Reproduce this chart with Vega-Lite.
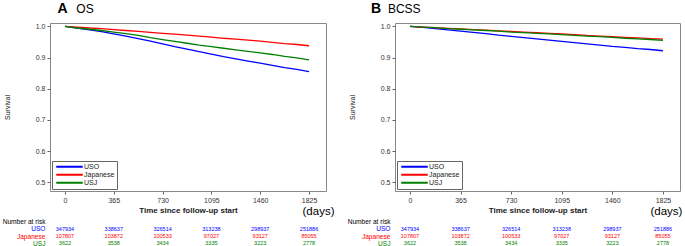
{
  "$schema": "https://vega.github.io/schema/vega-lite/v6.json",
  "padding": {"left": 2, "top": 1, "right": 2, "bottom": 0},
  "background": "white",
  "config": {"font": "Liberation Sans", "view": {"stroke": null}},
  "datasets": {
    "km": [
      {"panel":"OS","group":"USO","day":0,"surv":1.000},{"panel":"OS","group":"USO","day":91,"surv":0.995},{"panel":"OS","group":"USO","day":183,"surv":0.989},{"panel":"OS","group":"USO","day":274,"surv":0.983},{"panel":"OS","group":"USO","day":365,"surv":0.976},{"panel":"OS","group":"USO","day":456,"surv":0.969},{"panel":"OS","group":"USO","day":548,"surv":0.961},{"panel":"OS","group":"USO","day":639,"surv":0.953},{"panel":"OS","group":"USO","day":730,"surv":0.944},{"panel":"OS","group":"USO","day":821,"surv":0.935},{"panel":"OS","group":"USO","day":913,"surv":0.927},{"panel":"OS","group":"USO","day":1004,"surv":0.919},{"panel":"OS","group":"USO","day":1095,"surv":0.911},{"panel":"OS","group":"USO","day":1186,"surv":0.903},{"panel":"OS","group":"USO","day":1278,"surv":0.896},{"panel":"OS","group":"USO","day":1369,"surv":0.889},{"panel":"OS","group":"USO","day":1460,"surv":0.882},{"panel":"OS","group":"USO","day":1551,"surv":0.875},{"panel":"OS","group":"USO","day":1643,"surv":0.868},{"panel":"OS","group":"USO","day":1734,"surv":0.862},{"panel":"OS","group":"USO","day":1825,"surv":0.855},
      {"panel":"OS","group":"Japanese","day":0,"surv":1.000},{"panel":"OS","group":"Japanese","day":91,"surv":0.998},{"panel":"OS","group":"Japanese","day":183,"surv":0.995},{"panel":"OS","group":"Japanese","day":274,"surv":0.993},{"panel":"OS","group":"Japanese","day":365,"surv":0.990},{"panel":"OS","group":"Japanese","day":456,"surv":0.987},{"panel":"OS","group":"Japanese","day":548,"surv":0.984},{"panel":"OS","group":"Japanese","day":639,"surv":0.981},{"panel":"OS","group":"Japanese","day":730,"surv":0.978},{"panel":"OS","group":"Japanese","day":821,"surv":0.975},{"panel":"OS","group":"Japanese","day":913,"surv":0.972},{"panel":"OS","group":"Japanese","day":1004,"surv":0.969},{"panel":"OS","group":"Japanese","day":1095,"surv":0.966},{"panel":"OS","group":"Japanese","day":1186,"surv":0.962},{"panel":"OS","group":"Japanese","day":1278,"surv":0.959},{"panel":"OS","group":"Japanese","day":1369,"surv":0.956},{"panel":"OS","group":"Japanese","day":1460,"surv":0.953},{"panel":"OS","group":"Japanese","day":1551,"surv":0.949},{"panel":"OS","group":"Japanese","day":1643,"surv":0.945},{"panel":"OS","group":"Japanese","day":1734,"surv":0.942},{"panel":"OS","group":"Japanese","day":1825,"surv":0.938},
      {"panel":"OS","group":"USJ","day":0,"surv":1.000},{"panel":"OS","group":"USJ","day":91,"surv":0.995},{"panel":"OS","group":"USJ","day":183,"surv":0.991},{"panel":"OS","group":"USJ","day":274,"surv":0.987},{"panel":"OS","group":"USJ","day":365,"surv":0.982},{"panel":"OS","group":"USJ","day":456,"surv":0.977},{"panel":"OS","group":"USJ","day":548,"surv":0.971},{"panel":"OS","group":"USJ","day":639,"surv":0.964},{"panel":"OS","group":"USJ","day":730,"surv":0.958},{"panel":"OS","group":"USJ","day":821,"surv":0.952},{"panel":"OS","group":"USJ","day":913,"surv":0.946},{"panel":"OS","group":"USJ","day":1004,"surv":0.940},{"panel":"OS","group":"USJ","day":1095,"surv":0.935},{"panel":"OS","group":"USJ","day":1186,"surv":0.930},{"panel":"OS","group":"USJ","day":1278,"surv":0.925},{"panel":"OS","group":"USJ","day":1369,"surv":0.920},{"panel":"OS","group":"USJ","day":1460,"surv":0.915},{"panel":"OS","group":"USJ","day":1551,"surv":0.910},{"panel":"OS","group":"USJ","day":1643,"surv":0.904},{"panel":"OS","group":"USJ","day":1734,"surv":0.899},{"panel":"OS","group":"USJ","day":1825,"surv":0.893},
      {"panel":"BCSS","group":"USO","day":0,"surv":1.000},{"panel":"BCSS","group":"USO","day":91,"surv":0.997},{"panel":"BCSS","group":"USO","day":183,"surv":0.993},{"panel":"BCSS","group":"USO","day":274,"surv":0.989},{"panel":"BCSS","group":"USO","day":365,"surv":0.985},{"panel":"BCSS","group":"USO","day":456,"surv":0.981},{"panel":"BCSS","group":"USO","day":548,"surv":0.977},{"panel":"BCSS","group":"USO","day":639,"surv":0.972},{"panel":"BCSS","group":"USO","day":730,"surv":0.968},{"panel":"BCSS","group":"USO","day":821,"surv":0.964},{"panel":"BCSS","group":"USO","day":913,"surv":0.960},{"panel":"BCSS","group":"USO","day":1004,"surv":0.956},{"panel":"BCSS","group":"USO","day":1095,"surv":0.952},{"panel":"BCSS","group":"USO","day":1186,"surv":0.948},{"panel":"BCSS","group":"USO","day":1278,"surv":0.944},{"panel":"BCSS","group":"USO","day":1369,"surv":0.940},{"panel":"BCSS","group":"USO","day":1460,"surv":0.936},{"panel":"BCSS","group":"USO","day":1551,"surv":0.933},{"panel":"BCSS","group":"USO","day":1643,"surv":0.929},{"panel":"BCSS","group":"USO","day":1734,"surv":0.926},{"panel":"BCSS","group":"USO","day":1825,"surv":0.922},
      {"panel":"BCSS","group":"Japanese","day":0,"surv":1.000},{"panel":"BCSS","group":"Japanese","day":91,"surv":0.998},{"panel":"BCSS","group":"Japanese","day":183,"surv":0.996},{"panel":"BCSS","group":"Japanese","day":274,"surv":0.994},{"panel":"BCSS","group":"Japanese","day":365,"surv":0.992},{"panel":"BCSS","group":"Japanese","day":456,"surv":0.990},{"panel":"BCSS","group":"Japanese","day":548,"surv":0.988},{"panel":"BCSS","group":"Japanese","day":639,"surv":0.986},{"panel":"BCSS","group":"Japanese","day":730,"surv":0.984},{"panel":"BCSS","group":"Japanese","day":821,"surv":0.982},{"panel":"BCSS","group":"Japanese","day":913,"surv":0.980},{"panel":"BCSS","group":"Japanese","day":1004,"surv":0.978},{"panel":"BCSS","group":"Japanese","day":1095,"surv":0.976},{"panel":"BCSS","group":"Japanese","day":1186,"surv":0.974},{"panel":"BCSS","group":"Japanese","day":1278,"surv":0.971},{"panel":"BCSS","group":"Japanese","day":1369,"surv":0.969},{"panel":"BCSS","group":"Japanese","day":1460,"surv":0.967},{"panel":"BCSS","group":"Japanese","day":1551,"surv":0.965},{"panel":"BCSS","group":"Japanese","day":1643,"surv":0.963},{"panel":"BCSS","group":"Japanese","day":1734,"surv":0.961},{"panel":"BCSS","group":"Japanese","day":1825,"surv":0.959},
      {"panel":"BCSS","group":"USJ","day":0,"surv":1.000},{"panel":"BCSS","group":"USJ","day":91,"surv":0.998},{"panel":"BCSS","group":"USJ","day":183,"surv":0.996},{"panel":"BCSS","group":"USJ","day":274,"surv":0.993},{"panel":"BCSS","group":"USJ","day":365,"surv":0.991},{"panel":"BCSS","group":"USJ","day":456,"surv":0.989},{"panel":"BCSS","group":"USJ","day":548,"surv":0.987},{"panel":"BCSS","group":"USJ","day":639,"surv":0.985},{"panel":"BCSS","group":"USJ","day":730,"surv":0.982},{"panel":"BCSS","group":"USJ","day":821,"surv":0.980},{"panel":"BCSS","group":"USJ","day":913,"surv":0.978},{"panel":"BCSS","group":"USJ","day":1004,"surv":0.976},{"panel":"BCSS","group":"USJ","day":1095,"surv":0.974},{"panel":"BCSS","group":"USJ","day":1186,"surv":0.971},{"panel":"BCSS","group":"USJ","day":1278,"surv":0.969},{"panel":"BCSS","group":"USJ","day":1369,"surv":0.967},{"panel":"BCSS","group":"USJ","day":1460,"surv":0.965},{"panel":"BCSS","group":"USJ","day":1551,"surv":0.962},{"panel":"BCSS","group":"USJ","day":1643,"surv":0.960},{"panel":"BCSS","group":"USJ","day":1734,"surv":0.958},{"panel":"BCSS","group":"USJ","day":1825,"surv":0.955}
    ],
    "risk": [
      {"group":"USO","day":0,"n":347934},{"group":"USO","day":365,"n":338637},{"group":"USO","day":730,"n":326514},{"group":"USO","day":1095,"n":313238},{"group":"USO","day":1460,"n":298937},{"group":"USO","day":1825,"n":251886},
      {"group":"Japanese","day":0,"n":107807},{"group":"Japanese","day":365,"n":103872},{"group":"Japanese","day":730,"n":100533},{"group":"Japanese","day":1095,"n":97027},{"group":"Japanese","day":1460,"n":93127},{"group":"Japanese","day":1825,"n":85055},
      {"group":"USJ","day":0,"n":3622},{"group":"USJ","day":365,"n":3538},{"group":"USJ","day":730,"n":3434},{"group":"USJ","day":1095,"n":3335},{"group":"USJ","day":1460,"n":3223},{"group":"USJ","day":1825,"n":2778}
    ],
    "unit": [{"label": "(days)"}],
    "heads": [{"panel": "OS", "letter": "A", "name": "OS"}, {"panel": "BCSS", "letter": "B", "name": "BCSS"}]
  },
  "hconcat": [
    {
      "spacing": -4,
      "resolve": {"scale": {"x": "independent", "color": "independent"}, "legend": {"color": "independent"}},
      "vconcat": [
        {
          "width": 276, "height": 168,
          "view": {"stroke": "#888888", "strokeWidth": 1},
          "layer": [
            {
              "data": {"name": "km"},
              "transform": [{"filter": "datum.panel === 'OS'"}],
              "mark": {"type": "line", "strokeWidth": 1.3, "clip": true},
              "encoding": {
                "x": {"field": "day", "type": "quantitative", "scale": {"domain": [-112, 1952], "nice": false, "zero": false},
                  "axis": {"values": [0, 365, 730, 1095, 1460, 1825], "tickCount": 20, "format": "d", "title": "Time since follow-up start", "titleFontSize": 8, "titleFontWeight": "bold", "titleColor": "#222222", "labelFontSize": 7, "labelColor": "#333333", "tickSize": 3, "tickColor": "#666666", "domain": false, "grid": false, "labelPadding": 2, "titlePadding": 3, "labelFlush": false, "labelOverlap": false}},
                "y": {"field": "surv", "type": "quantitative", "scale": {"domain": [0.472, 1.011], "nice": false, "zero": false},
                  "axis": {"values": [0.5, 0.6, 0.7, 0.8, 0.9, 1.0], "tickCount": 20, "format": ".1f", "title": "Survival", "titleFontSize": 7, "titleFontWeight": "normal", "titleColor": "#222222", "titlePadding": 25, "labelFontSize": 7, "labelColor": "#333333", "tickSize": 3, "tickColor": "#666666", "domain": false, "grid": false, "labelPadding": 2, "labelOverlap": false, "labelBound": false}},
                "color": {"field": "group", "type": "nominal", "scale": {"domain": ["USO", "Japanese", "USJ"], "range": ["#0000ff", "#ff0000", "#008000"]},
                  "legend": {"orient": "bottom-left", "title": null, "offset": 2, "strokeColor": "#666666", "fillColor": "white", "padding": 2, "labelFontSize": 7, "labelColor": "#222222", "symbolType": "M-5.3,0H5.3", "symbolSize": 25, "symbolStrokeWidth": 2, "symbolOffset": 12, "labelOffset": 11, "rowPadding": -2, "clipHeight": 7.5}}
              }
            },
            {
              "data": {"name": "unit"},
              "mark": {"type": "text", "fontSize": 11.5, "baseline": "middle", "align": "center", "color": "#000000"},
              "encoding": {"x": {"datum": 1896}, "y": {"datum": 0.406}, "text": {"field": "label"}}
            },
            {
              "data": {"name": "heads"},
              "transform": [{"filter": "datum.panel === 'OS'"}],
              "mark": {"type": "text", "fontSize": 14, "fontWeight": "bold", "baseline": "alphabetic", "align": "left", "color": "#000000"},
              "encoding": {"x": {"datum": -55}, "y": {"datum": 1.0426}, "text": {"field": "letter"}}
            },
            {
              "data": {"name": "heads"},
              "transform": [{"filter": "datum.panel === 'OS'"}],
              "mark": {"type": "text", "fontSize": 12, "baseline": "alphabetic", "align": "left", "color": "#000000"},
              "encoding": {"x": {"datum": 85}, "y": {"datum": 1.0426}, "text": {"field": "name"}}
            }
          ]
        },
        {
          "width": 276, "height": 29,
          "data": {"name": "risk"},
          "mark": {"type": "text", "fontSize": 5.5, "baseline": "middle"},
          "encoding": {
            "x": {"field": "day", "type": "quantitative", "scale": {"domain": [-112, 1952], "nice": false, "zero": false}, "axis": null},
            "y": {"field": "group", "type": "ordinal", "scale": {"domain": ["Number at risk", "USO", "Japanese", "USJ"]},
              "axis": {"title": null, "ticks": false, "domain": false, "labelPadding": 5, "labelFontSize": 6.6, "labelOverlap": false,
                "labelColor": {"condition": [{"test": "datum.value === 'USO'", "value": "#0000ff"}, {"test": "datum.value === 'Japanese'", "value": "#ff0000"}, {"test": "datum.value === 'USJ'", "value": "#008000"}], "value": "#000000"}}},
            "text": {"field": "n"},
            "color": {"condition": [{"test": "datum.group === 'USO'", "value": "#0000ff"}, {"test": "datum.group === 'Japanese'", "value": "#ff0000"}], "value": "#008000"}
          }
        }
      ]
    },
    {
      "spacing": -4,
      "resolve": {"scale": {"x": "independent", "color": "independent"}, "legend": {"color": "independent"}},
      "vconcat": [
        {
          "width": 285, "height": 168,
          "view": {"stroke": "#888888", "strokeWidth": 1},
          "layer": [
            {
              "data": {"name": "km"},
              "transform": [{"filter": "datum.panel === 'BCSS'"}],
              "mark": {"type": "line", "strokeWidth": 1.3, "clip": true},
              "encoding": {
                "x": {"field": "day", "type": "quantitative", "scale": {"domain": [-108, 1948], "nice": false, "zero": false},
                  "axis": {"values": [0, 365, 730, 1095, 1460, 1825], "tickCount": 20, "format": "d", "title": "Time since follow-up start", "titleFontSize": 8, "titleFontWeight": "bold", "titleColor": "#222222", "labelFontSize": 7, "labelColor": "#333333", "tickSize": 3, "tickColor": "#666666", "domain": false, "grid": false, "labelPadding": 2, "titlePadding": 3, "labelFlush": false, "labelOverlap": false}},
                "y": {"field": "surv", "type": "quantitative", "scale": {"domain": [0.472, 1.011], "nice": false, "zero": false},
                  "axis": {"values": [0.5, 0.6, 0.7, 0.8, 0.9, 1.0], "tickCount": 20, "format": ".1f", "title": "Survival", "titleFontSize": 7, "titleFontWeight": "normal", "titleColor": "#222222", "titlePadding": 25, "labelFontSize": 7, "labelColor": "#333333", "tickSize": 3, "tickColor": "#666666", "domain": false, "grid": false, "labelPadding": 2, "labelOverlap": false, "labelBound": false}},
                "color": {"field": "group", "type": "nominal", "scale": {"domain": ["USO", "Japanese", "USJ"], "range": ["#0000ff", "#ff0000", "#008000"]},
                  "legend": {"orient": "bottom-left", "title": null, "offset": 2, "strokeColor": "#666666", "fillColor": "white", "padding": 2, "labelFontSize": 7, "labelColor": "#222222", "symbolType": "M-5.3,0H5.3", "symbolSize": 25, "symbolStrokeWidth": 2, "symbolOffset": 12, "labelOffset": 11, "rowPadding": -2, "clipHeight": 7.5}}
              }
            },
            {
              "data": {"name": "unit"},
              "mark": {"type": "text", "fontSize": 11.5, "baseline": "middle", "align": "center", "color": "#000000"},
              "encoding": {"x": {"datum": 1850}, "y": {"datum": 0.406}, "text": {"field": "label"}}
            },
            {
              "data": {"name": "heads"},
              "transform": [{"filter": "datum.panel === 'BCSS'"}],
              "mark": {"type": "text", "fontSize": 14, "fontWeight": "bold", "baseline": "alphabetic", "align": "left", "color": "#000000"},
              "encoding": {"x": {"datum": -281}, "y": {"datum": 1.0426}, "text": {"field": "letter"}}
            },
            {
              "data": {"name": "heads"},
              "transform": [{"filter": "datum.panel === 'BCSS'"}],
              "mark": {"type": "text", "fontSize": 12, "baseline": "alphabetic", "align": "left", "color": "#000000"},
              "encoding": {"x": {"datum": -159}, "y": {"datum": 1.0426}, "text": {"field": "name"}}
            }
          ]
        },
        {
          "width": 285, "height": 29,
          "data": {"name": "risk"},
          "mark": {"type": "text", "fontSize": 5.5, "baseline": "middle"},
          "encoding": {
            "x": {"field": "day", "type": "quantitative", "scale": {"domain": [-108, 1948], "nice": false, "zero": false}, "axis": null},
            "y": {"field": "group", "type": "ordinal", "scale": {"domain": ["Number at risk", "USO", "Japanese", "USJ"]},
              "axis": {"title": null, "ticks": false, "domain": false, "labelPadding": 5, "labelFontSize": 6.6, "labelOverlap": false,
                "labelColor": {"condition": [{"test": "datum.value === 'USO'", "value": "#0000ff"}, {"test": "datum.value === 'Japanese'", "value": "#ff0000"}, {"test": "datum.value === 'USJ'", "value": "#008000"}], "value": "#000000"}}},
            "text": {"field": "n"},
            "color": {"condition": [{"test": "datum.group === 'USO'", "value": "#0000ff"}, {"test": "datum.group === 'Japanese'", "value": "#ff0000"}], "value": "#008000"}
          }
        }
      ]
    }
  ],
  "spacing": 12,
  "resolve": {"scale": {"x": "independent", "y": "independent", "color": "independent"}, "legend": {"color": "independent"}}
}
